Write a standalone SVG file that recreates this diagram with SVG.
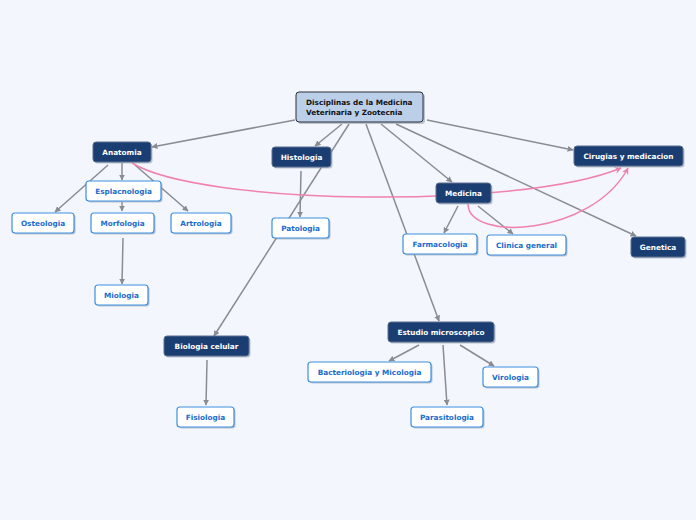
<svg xmlns="http://www.w3.org/2000/svg" width="696" height="520" viewBox="0 0 696 520">
<style>
text{font-family:"DejaVu Sans","Verdana",sans-serif;font-weight:bold;font-size:7.3px;text-anchor:middle;dominant-baseline:central}
.dark rect.b{fill:#1b3e72;stroke:#5a6f90;stroke-width:1}
.dark text{fill:#ffffff}
.light rect.b{fill:#ffffff;stroke:#3d8fe0;stroke-width:1.2}
.light text{fill:#1a6ccc}
.sh{fill:#9aa3b3;opacity:0.6}
.c{stroke:#8a8c93;stroke-width:1.5;fill:none;marker-end:url(#ag)}
.p{stroke:#f082ad;stroke-width:1.5;fill:none;marker-end:url(#ap)}
</style>
<defs>
<marker id="ag" viewBox="0 0 10 10" refX="9" refY="5" markerWidth="6" markerHeight="6" markerUnits="userSpaceOnUse" orient="auto"><path d="M0,0 L10,5 L0,10 z" fill="#8a8c93"/></marker>
<marker id="ap" viewBox="0 0 10 10" refX="9" refY="5" markerWidth="7" markerHeight="7" markerUnits="userSpaceOnUse" orient="auto"><path d="M0,0 L10,5 L0,10 L3,5 z" fill="#f082ad"/></marker>
</defs>
<rect x="0" y="0" width="696" height="520" fill="#f3f6fd"/>
<g id="connectors">
<path class="c" d="M295,120 L152,147"/>
<path class="c" d="M342,124 L315,146"/>
<path class="c" d="M349,124 L214,336"/>
<path class="c" d="M366,124 L439,321"/>
<path class="c" d="M381,124 L452,182"/>
<path class="c" d="M396,124 L636,236"/>
<path class="c" d="M427,120 L573,150"/>
<path class="c" d="M122,163 L122,180"/>
<path class="c" d="M108,165 L55,212"/>
<path class="c" d="M135,165 L188,211"/>
<path class="c" d="M122,202 L122,211"/>
<path class="c" d="M123,238 L122,284"/>
<path class="c" d="M301,171 L300,217"/>
<path class="c" d="M458,206 L444,233"/>
<path class="c" d="M478,206 L513,234"/>
<path class="c" d="M419,345 L389,361"/>
<path class="c" d="M443,345 L447,405"/>
<path class="c" d="M460,345 L494,366"/>
<path class="c" d="M207,360 L206,405"/>
<path class="p" d="M132,163 C200,205 520,210 621,168"/>
<path class="p" d="M468,204 C468,242 592,236 628,168"/>
</g>
<g id="root">
<rect x="298" y="94" width="127" height="30" rx="3" class="sh"/>
<rect x="296" y="92" width="127" height="30" rx="3" fill="#bccfe9" stroke="#2a2e36" stroke-width="1"/>
<text x="306" y="102.5" fill="#111" style="text-anchor:start">Disciplinas de la Medicina</text>
<text x="306" y="112.5" fill="#111" style="text-anchor:start">Veterinaria y Zootecnia</text>
</g>
<g id="anatomia" class="dark"><rect x="94.5" y="143.5" width="58" height="20" rx="3" class="sh"/><rect class="b" x="93" y="142" width="58" height="20" rx="3"/><text x="122" y="152">Anatomia</text></g>
<g id="histologia" class="dark"><rect x="273.5" y="148.5" width="59" height="20" rx="3" class="sh"/><rect class="b" x="272" y="147" width="59" height="20" rx="3"/><text x="301.5" y="157">Histologia</text></g>
<g id="medicina" class="dark"><rect x="437.5" y="184.5" width="55" height="20" rx="3" class="sh"/><rect class="b" x="436" y="183" width="55" height="20" rx="3"/><text x="463.5" y="193">Medicina</text></g>
<g id="cirugias" class="dark"><rect x="575.5" y="147.5" width="109" height="20" rx="3" class="sh"/><rect class="b" x="574" y="146" width="109" height="20" rx="3"/><text x="628.5" y="156">Cirugias y medicacion</text></g>
<g id="genetica" class="dark"><rect x="632.5" y="238.5" width="54" height="20" rx="3" class="sh"/><rect class="b" x="631" y="237" width="54" height="20" rx="3"/><text x="658" y="247">Genetica</text></g>
<g id="biologia" class="dark"><rect x="165.5" y="337.5" width="85" height="20" rx="3" class="sh"/><rect class="b" x="164" y="336" width="85" height="20" rx="3"/><text x="206.5" y="346">Biologia celular</text></g>
<g id="estudio" class="dark"><rect x="389.5" y="323.5" width="106" height="20" rx="3" class="sh"/><rect class="b" x="388" y="322" width="106" height="20" rx="3"/><text x="441" y="332">Estudio microscopico</text></g>
<g id="esplacnologia" class="light"><rect x="87.5" y="182.5" width="75" height="20" rx="3" class="sh"/><rect class="b" x="86" y="181" width="75" height="20" rx="3"/><text x="123.5" y="191">Esplacnologia</text></g>
<g id="osteologia" class="light"><rect x="13.5" y="214.5" width="62" height="20" rx="3" class="sh"/><rect class="b" x="12" y="213" width="62" height="20" rx="3"/><text x="43" y="223">Osteologia</text></g>
<g id="morfologia" class="light"><rect x="92.5" y="214.5" width="63" height="20" rx="3" class="sh"/><rect class="b" x="91" y="213" width="63" height="20" rx="3"/><text x="122.5" y="223">Morfologia</text></g>
<g id="artrologia" class="light"><rect x="172.5" y="214.5" width="60" height="20" rx="3" class="sh"/><rect class="b" x="171" y="213" width="60" height="20" rx="3"/><text x="201" y="223">Artrologia</text></g>
<g id="miologia" class="light"><rect x="96.5" y="286.5" width="53" height="20" rx="3" class="sh"/><rect class="b" x="95" y="285" width="53" height="20" rx="3"/><text x="121.5" y="295">Miologia</text></g>
<g id="patologia" class="light"><rect x="273.5" y="219.5" width="57" height="20" rx="3" class="sh"/><rect class="b" x="272" y="218" width="57" height="20" rx="3"/><text x="300.5" y="228">Patologia</text></g>
<g id="farmacologia" class="light"><rect x="404.5" y="235.5" width="74" height="20" rx="3" class="sh"/><rect class="b" x="403" y="234" width="74" height="20" rx="3"/><text x="440" y="244">Farmacologia</text></g>
<g id="clinica" class="light"><rect x="488.5" y="236.5" width="79" height="20" rx="3" class="sh"/><rect class="b" x="487" y="235" width="79" height="20" rx="3"/><text x="526.5" y="245">Clinica general</text></g>
<g id="fisiologia" class="light"><rect x="178.5" y="408.5" width="57" height="20" rx="3" class="sh"/><rect class="b" x="177" y="407" width="57" height="20" rx="3"/><text x="205.5" y="417">Fisiologia</text></g>
<g id="bacteriologia" class="light"><rect x="309.5" y="363.5" width="123" height="20" rx="3" class="sh"/><rect class="b" x="308" y="362" width="123" height="20" rx="3"/><text x="369.5" y="372">Bacteriologia y Micologia</text></g>
<g id="virologia" class="light"><rect x="484.5" y="368.5" width="55" height="20" rx="3" class="sh"/><rect class="b" x="483" y="367" width="55" height="20" rx="3"/><text x="510.5" y="377">Virologia</text></g>
<g id="parasitologia" class="light"><rect x="412.5" y="408.5" width="72" height="20" rx="3" class="sh"/><rect class="b" x="411" y="407" width="72" height="20" rx="3"/><text x="447" y="417">Parasitologia</text></g>
</svg>
